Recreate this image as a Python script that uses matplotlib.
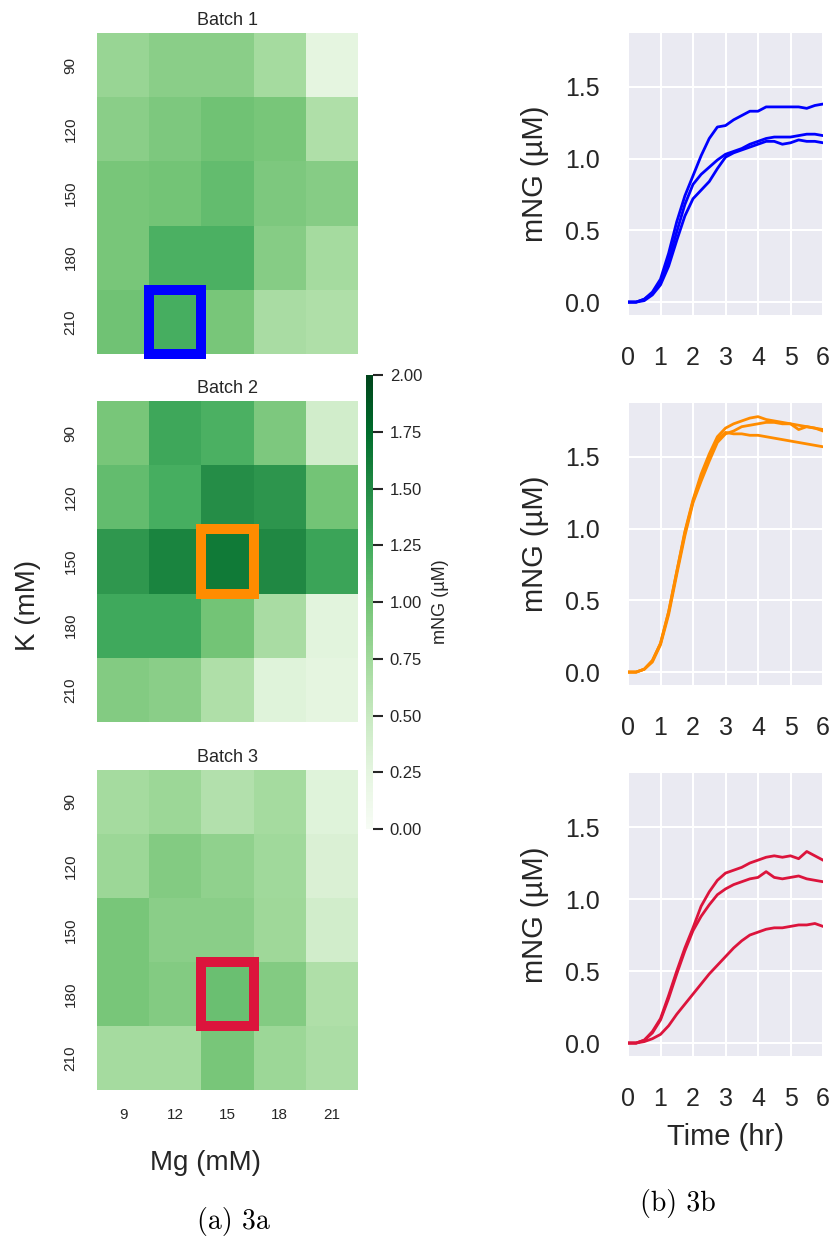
import matplotlib
matplotlib.use('Agg')
import matplotlib.pyplot as plt
import numpy as np
from matplotlib.patches import Rectangle

plt.rcParams['font.family'] = ['Liberation Sans', 'DejaVu Sans']

# ---------------- data ----------------
mg_labels = ['9', '12', '15', '18', '21']
k_labels = ['90', '120', '150', '180', '210']
batch_titles = ['Batch 1', 'Batch 2', 'Batch 3']

batch1 = [[0.80, 0.88, 0.88, 0.72, 0.25],
          [0.88, 0.95, 1.02, 0.98, 0.66],
          [0.98, 1.00, 1.08, 0.95, 0.90],
          [0.98, 1.20, 1.20, 0.90, 0.72],
          [1.02, 1.22, 0.98, 0.70, 0.66]]
batch2 = [[0.98, 1.28, 1.20, 0.95, 0.42],
          [1.08, 1.22, 1.48, 1.42, 1.00],
          [1.40, 1.56, 1.64, 1.52, 1.30],
          [1.26, 1.26, 1.00, 0.70, 0.28],
          [0.92, 0.88, 0.66, 0.30, 0.25]]
batch3 = [[0.72, 0.78, 0.64, 0.72, 0.30],
          [0.78, 0.92, 0.85, 0.75, 0.35],
          [0.98, 0.88, 0.88, 0.76, 0.42],
          [0.98, 0.92, 1.05, 0.92, 0.66],
          [0.72, 0.72, 0.98, 0.78, 0.68]]
# highlighted cells: (column index, row index)
highlight = [(1, 4), (2, 2), (2, 3)]
colors = ['#0000ff', '#ff8c00', '#dc143c']

time_hr = [0.00, 0.25, 0.50, 0.75, 1.00, 1.25, 1.50, 1.75, 2.00, 2.25, 2.50, 2.75,
           3.00, 3.25, 3.50, 3.75, 4.00, 4.25, 4.50, 4.75, 5.00, 5.25, 5.50, 5.75, 6.00]
blue_1 = [0.00, 0.00, 0.02, 0.07, 0.16, 0.34, 0.56, 0.74, 0.88, 1.02, 1.14, 1.22, 1.23,
          1.27, 1.30, 1.33, 1.33, 1.36, 1.36, 1.36, 1.36, 1.36, 1.35, 1.37, 1.38]
blue_2 = [0.00, 0.00, 0.02, 0.06, 0.14, 0.29, 0.49, 0.68, 0.82, 0.89, 0.94, 0.99, 1.03,
          1.05, 1.07, 1.10, 1.12, 1.14, 1.15, 1.15, 1.15, 1.16, 1.17, 1.17, 1.16]
blue_3 = [0.00, 0.00, 0.01, 0.05, 0.12, 0.25, 0.43, 0.60, 0.72, 0.78, 0.84, 0.93, 1.01,
          1.04, 1.06, 1.08, 1.10, 1.12, 1.12, 1.10, 1.11, 1.13, 1.12, 1.12, 1.11]
orange_1 = [0.00, 0.00, 0.02, 0.08, 0.20, 0.42, 0.70, 0.98, 1.20, 1.38, 1.52, 1.64, 1.70,
            1.73, 1.75, 1.77, 1.78, 1.76, 1.75, 1.74, 1.73, 1.72, 1.71, 1.70, 1.69]
orange_2 = [0.00, 0.00, 0.02, 0.07, 0.19, 0.40, 0.68, 0.95, 1.18, 1.33, 1.47, 1.60, 1.66,
            1.68, 1.71, 1.72, 1.73, 1.74, 1.74, 1.73, 1.73, 1.69, 1.71, 1.70, 1.68]
orange_3 = [0.00, 0.00, 0.02, 0.08, 0.20, 0.42, 0.70, 0.97, 1.19, 1.36, 1.50, 1.62, 1.67,
            1.66, 1.66, 1.65, 1.65, 1.64, 1.63, 1.62, 1.61, 1.60, 1.59, 1.58, 1.57]
red_1 = [0.00, 0.00, 0.02, 0.08, 0.17, 0.33, 0.50, 0.66, 0.80, 0.95, 1.05, 1.13, 1.18,
         1.20, 1.22, 1.25, 1.27, 1.29, 1.30, 1.29, 1.30, 1.28, 1.33, 1.30, 1.27]
red_2 = [0.00, 0.00, 0.02, 0.07, 0.16, 0.31, 0.48, 0.64, 0.78, 0.88, 0.96, 1.03, 1.07,
         1.10, 1.12, 1.14, 1.15, 1.19, 1.15, 1.14, 1.15, 1.16, 1.14, 1.13, 1.12]
red_3 = [0.00, 0.00, 0.01, 0.03, 0.06, 0.12, 0.20, 0.27, 0.34, 0.41, 0.48, 0.54, 0.60,
         0.66, 0.71, 0.75, 0.77, 0.79, 0.80, 0.80, 0.81, 0.82, 0.82, 0.83, 0.81]

batches = [batch1, batch2, batch3]
curves = [[blue_1, blue_2, blue_3], [orange_1, orange_2, orange_3], [red_1, red_2, red_3]]

# ---------------- layout ----------------
W, H = 835, 1239
fig = plt.figure(figsize=(W / 100, H / 100), dpi=100)


def box(l, t, r, b):
    return [l / W, 1 - b / H, (r - l) / W, (b - t) / H]


TXT = '#262626'
heat_boxes = [(97, 33, 358, 354), (97, 401, 358, 722), (97, 770, 358, 1090)]
line_boxes = [(628, 33, 823, 315), (628, 403, 823, 685), (628, 773, 823, 1056)]

mesh = None
for i, (data, bb) in enumerate(zip(batches, heat_boxes)):
    ax = fig.add_axes(box(*bb))
    arr = np.array(data)
    mesh = ax.pcolormesh(np.arange(arr.shape[1] + 1), np.arange(arr.shape[0] + 1), arr,
                         cmap='Greens', vmin=0, vmax=2)
    ax.set_xlim(0, arr.shape[1])
    ax.set_ylim(arr.shape[0], 0)
    for s in ax.spines.values():
        s.set_visible(False)
    ax.set_yticks(np.arange(len(k_labels)) + 0.5)
    ax.set_yticklabels(k_labels, rotation=90, va='center', fontsize=11, color=TXT)
    ax.tick_params(axis='y', length=0, pad=14)
    ax.set_xticks(np.arange(len(mg_labels)) + 0.5)
    if i == 2:
        ax.set_xticklabels(mg_labels, fontsize=11, color=TXT)
        ax.tick_params(axis='x', length=0, pad=13)
    else:
        ax.set_xticklabels([])
        ax.tick_params(axis='x', length=0)
    ax.set_title(batch_titles[i], fontsize=13, color=TXT, pad=6)
    c, r = highlight[i]
    ax.add_patch(Rectangle((c, r), 1, 1, fill=False, edgecolor=colors[i], lw=7.2,
                           clip_on=False, zorder=5))

cax = fig.add_axes(box(366, 375, 373, 829))
cb = fig.colorbar(mesh, cax=cax)
cb.outline.set_visible(False)
cb.set_ticks(np.arange(0, 2.01, 0.25))
cb.ax.set_yticklabels(['%.2f' % v for v in np.arange(0, 2.01, 0.25)], fontsize=12, color=TXT)
cb.ax.tick_params(length=7, width=1.5, color=TXT, pad=5)
cb.set_label('mNG (µM)', fontsize=13, color=TXT, va='center')
cb.ax.yaxis.set_label_coords(10.7, 0.5)

fig.text(206 / W, 1 - 1163 / H, 'Mg (mM)', fontsize=20, color=TXT, ha='center', va='center')
fig.text(28 / W, 1 - 605 / H, 'K (mM)', fontsize=20, color=TXT, ha='center', va='center',
         rotation=90)

for i, bb in enumerate(line_boxes):
    ax = fig.add_axes(box(*bb))
    ax.set_facecolor('#EAEAF2')
    ax.grid(True, color='white', lw=1.5)
    ax.set_axisbelow(True)
    for s in ax.spines.values():
        s.set_visible(False)
    for y in curves[i]:
        ax.plot(time_hr, y, color=colors[i], lw=2.0)
    ax.set_xlim(0, 6)
    ax.set_ylim(-0.09, 1.875)
    ax.set_xticks(range(0, 7))
    ax.set_yticks([0, 0.5, 1.0, 1.5])
    ax.tick_params(axis='both', length=0, labelsize=18, labelcolor=TXT)
    ax.tick_params(axis='x', pad=22)
    ax.tick_params(axis='y', pad=20)
    ax.set_ylabel('mNG (µM)', fontsize=21, color=TXT, va='center')
    ax.yaxis.set_label_coords(-0.477, 0.5)
    if i == 2:
        ax.set_xlabel('Time (hr)', fontsize=21, color=TXT, va='center')
        ax.xaxis.set_label_coords(0.5, -0.286)

fig.text(233 / W, 1 - 1222 / H, '(a) 3a', fontsize=20, family='cmr10', ha='center',
         va='center', color='black')
fig.text(678 / W, 1 - 1204 / H, '(b) 3b', fontsize=20, family='cmr10', ha='center',
         va='center', color='black')

fig.savefig('out.png', dpi=100)
